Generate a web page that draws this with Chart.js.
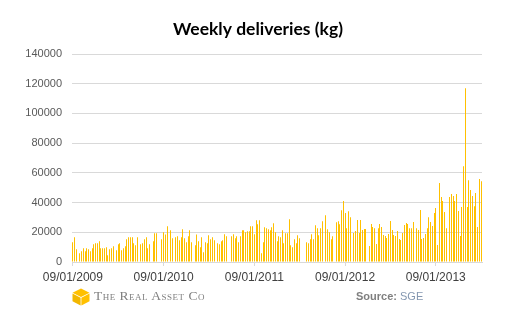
<!DOCTYPE html>
<html>
<head>
<meta charset="utf-8">
<script src="https://cdn.jsdelivr.net/npm/chart.js@4.4.1/dist/chart.umd.min.js"></script>
<style>
  html, body { margin:0; padding:0; background:#fff; }
  #wrap { position:relative; width:516px; height:336px; overflow:hidden; }
  canvas { position:absolute; left:0; top:0; }
  .logo { position:absolute; left:71px; top:288px; }
  .brand { position:absolute; left:94px; top:288px; font-family:"Liberation Serif","DejaVu Serif",serif; font-size:13.5px; font-variant:small-caps; letter-spacing:0.5px; color:#808080; white-space:nowrap; }
  .source { position:absolute; left:356px; top:290px; font-family:"Liberation Sans",Arial,sans-serif; font-size:11px; white-space:nowrap; }
  .source b { color:#7f7f7f; }
  .source span { color:#8497b0; }
</style>
</head>
<body>
<div id="wrap">
  <canvas id="c" width="516" height="336"></canvas>
  <svg class="logo" width="20" height="18" viewBox="0 0 20 18">
    <polygon points="10,0.5 18.5,4.8 10,9 1.5,4.8" fill="#FFC000"/>
    <polygon points="1.5,5.6 9.6,9.7 9.6,17.5 1.5,13.2" fill="#F2B700"/>
    <polygon points="10.4,9.7 18.5,5.6 18.5,13.2 10.4,17.5" fill="#FFC000"/>
  </svg>
  <div class="brand">The Real Asset Co</div>
  <div class="source"><b>Source:</b> <span>SGE</span></div>
</div>
<script>
// Weekly deliveries (kg), one value per week starting 09/01/2009; null = no delivery reported
const weeklyDeliveries = [
  13300,16600,8500,null,5900,7200,9200,7200,9200,8500,
  7200,9200,11900,12600,12600,14000,9200,9200,9200,9900,
  4500,8500,9200,10600,null,7900,11900,12600,7900,9200,
  10600,15300,16600,16600,16600,12600,11200,16600,null,11900,
  12600,15300,16600,9200,11900,null,14000,19300,19300,null,
  null,15300,20000,18500,24100,null,21400,16000,null,16600,
  17300,14700,16600,22000,16000,13300,17300,21400,13300,null,
  11200,18500,14000,9900,16600,6500,13300,12600,18000,15300,
  16600,14700,null,12600,11900,14000,14700,18700,17300,null,
  null,17300,18700,16000,17300,13300,17300,21400,21400,20000,
  20700,20700,24100,24100,18700,28100,25400,28100,5900,13300,
  23400,22700,22000,21400,23400,26100,20000,14000,17300,16600,
  21400,12600,19300,19300,28800,11200,9900,15300,12600,18000,
  16000,null,null,null,13300,12600,15300,18700,15300,24800,
  22700,18000,22700,27400,null,31500,22000,20000,15300,17300,
  null,26800,27400,25400,34800,41000,32900,22700,34200,30200,
  null,19500,20800,28200,19500,28200,21500,22200,22200,null,
  10800,25500,23500,22800,12100,22800,25500,23500,18100,17500,
  16100,18800,27600,21500,18100,17500,20800,15500,14800,19500,
  24900,26200,25500,22800,22800,26900,null,22800,21500,35000,
  15500,16100,18800,22800,30200,26900,24200,32900,36300,11400,
  53100,43700,41000,33600,22800,null,43700,45700,44400,41000,
  45700,34300,17500,37000,64500,117000,37000,55100,48400,44400,
  37600,46400,23500,55800,54400
];
// Category = week number since the first week
const weekCategories = weeklyDeliveries.map((_, i) => 'W' + i);
// Date tick labels and the week at which each falls
const tickLabels = ['09/01/2009','09/01/2010','09/01/2011','09/01/2012','09/01/2013'];
const tickWeeks = [0, 52, 104, 156, 208];
const yTicks = { min: 0, max: 140000, step: 20000 };

// Snap each 1px bar to the pixel grid so thin bars render crisp (positions still come from the scale)
const crispBars = {
  id: 'crispBars',
  beforeDatasetDraw(chart, args) {
    args.meta.data.forEach(el => {
      el.x = Math.floor(el.x) + 0.5;
      el.width = 1;
    });
  }
};

new Chart(document.getElementById('c'), {
  type: 'bar',
  data: {
    labels: weekCategories,
    datasets: [{
      data: weeklyDeliveries,
      backgroundColor: '#FFC000',
      barPercentage: 0.6,
      categoryPercentage: 1.0,
      inflateAmount: 0
    }]
  },
  plugins: [crispBars],
  options: {
    responsive: false,
    animation: false,
    devicePixelRatio: 1,
    layout: { padding: { left: 0, right: 0, top: 0, bottom: 54 } },
    plugins: {
      legend: { display: false },
      tooltip: { enabled: false },
      title: {
        display: true,
        text: 'Weekly deliveries (kg)',
        color: '#000000',
        font: { family: 'Lato', size: 17.5, weight: 'bold' },
        padding: { top: 19, bottom: 14 }
      }
    },
    scales: {
      x: {
        offset: true,
        ticks: {
          autoSkip: false,
          maxRotation: 0,
          minRotation: 0,
          color: '#404040',
          font: { family: 'Liberation Sans', size: 12 },
          padding: 4,
          callback: function (v, i) {
            const k = tickWeeks.indexOf(i);
            return k < 0 ? null : tickLabels[k];
          }
        },
        grid: { drawOnChartArea: false, color: '#d9d9d9', tickLength: 4, offset: false, lineWidth: 1 },
        border: { color: '#d9d9d9', width: 1 },
        afterFit: function (s) { s.height = 20; }
      },
      y: {
        min: yTicks.min,
        max: yTicks.max,
        ticks: {
          stepSize: yTicks.step,
          color: '#595959',
          font: { family: 'Liberation Sans', size: 11 },
          padding: 10,
          callback: function (v) { return String(v); }
        },
        grid: { color: '#d9d9d9', drawTicks: false, lineWidth: 1 },
        border: { display: false },
        afterFit: function (s) { s.width = 72; }
      },
      yRight: {
        position: 'right',
        display: true,
        min: yTicks.min,
        max: yTicks.max,
        ticks: { display: false },
        grid: { display: false, drawTicks: false },
        border: { display: false },
        afterFit: function (s) { s.width = 34; }
      }
    }
  }
});
</script>
</body>
</html>
